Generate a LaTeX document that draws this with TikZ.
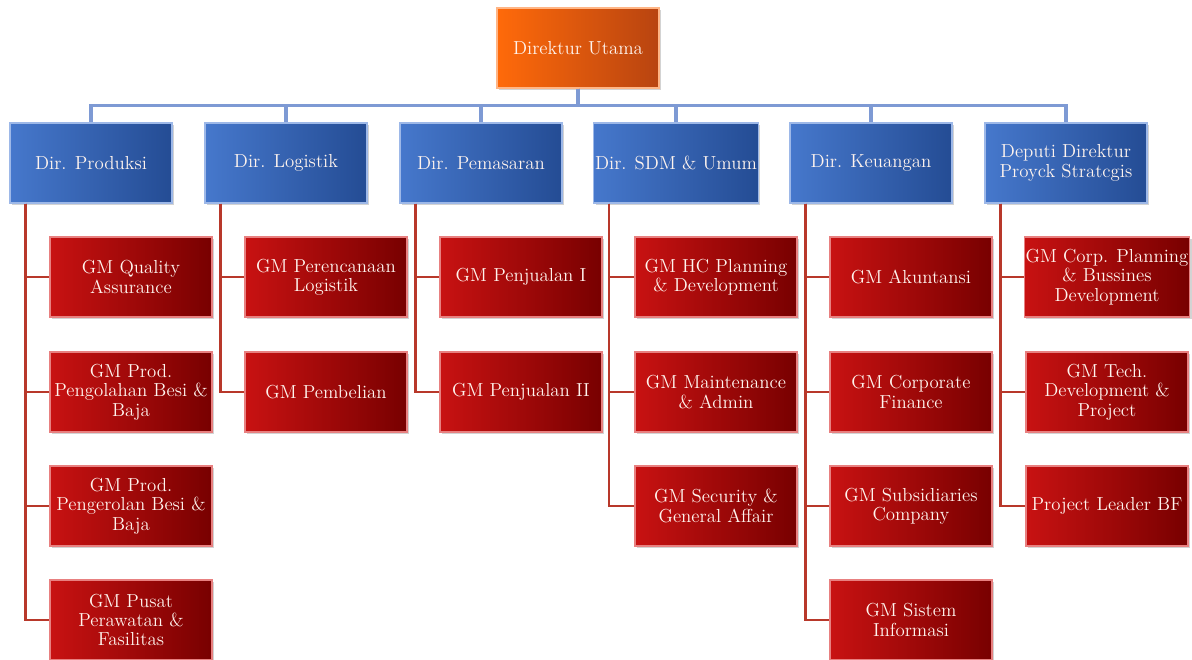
\documentclass[tikz,border=0pt]{standalone}
\usepackage{tikz}
\usetikzlibrary{calc,shadows}

\definecolor{topL}{HTML}{FF6A0A}
\definecolor{topR}{HTML}{B84410}
\definecolor{topE}{HTML}{FFB585}
\definecolor{dirL}{HTML}{4678CC}
\definecolor{dirR}{HTML}{244C94}
\definecolor{dirE}{HTML}{9DB8E8}
\definecolor{gmL}{HTML}{C81212}
\definecolor{gmR}{HTML}{780000}
\definecolor{gmE}{HTML}{E88080}
\definecolor{boxtext}{HTML}{FFF4EE}
\definecolor{busblue}{HTML}{7E9AD4}
\definecolor{linered}{HTML}{B8382A}

\begin{document}
\begin{tikzpicture}[x=0.025cm,y=-0.025cm,
    box/.style={minimum width=4.05cm,minimum height=2cm,inner sep=1pt,align=center,
      text=boxtext,font=\fontsize{13.4}{13.8}\selectfont,line width=0.8pt,
      drop shadow={opacity=0.35,shadow xshift=1.5pt,shadow yshift=-1.5pt}},
    topbox/.style={box,left color=topL,right color=topR,draw=topE},
    dirbox/.style={box,left color=dirL,right color=dirR,draw=dirE},
    gmbox/.style={box,left color=gmL,right color=gmR,draw=gmE},
    busline/.style={busblue,line width=2.6pt},
    redline/.style={linered,line width=2pt}]
    \useasboundingbox (0,0) rectangle (1192,659);
    \clip (0,0) rectangle (1192,659);

    % Top level
    \node[topbox] (utama) at (578,48) {Direktur Utama};

    % Directors
    \node[dirbox] (produksi) at (91,163) {Dir. Produksi};
    \node[dirbox] (logistik) at (286,163) {Dir. Logistik};
    \node[dirbox] (pemasaran) at (481,163) {Dir. Pemasaran};
    \node[dirbox] (sdm) at (676,163) {Dir. SDM \& Umum};
    \node[dirbox] (keuangan) at (871,163) {Dir. Keuangan};
    \node[dirbox] (deputi) at (1066,163) {Deputi Direktur\\Proyck Stratcgis};

    % Produksi
    \node[gmbox] (qa) at (131,277) {GM Quality\\Assurance};
    \node[gmbox] (olah) at (131,392) {GM Prod.\\Pengolahan Besi \&\\Baja};
    \node[gmbox] (rol) at (131,506) {GM Prod.\\Pengerolan Besi \&\\Baja};
    \node[gmbox] (pusat) at (131,620) {GM Pusat\\Perawatan \&\\Fasilitas};

    % Logistik
    \node[gmbox] (rencana) at (326,277) {GM Perencanaan\\Logistik};
    \node[gmbox] (beli) at (326,392) {GM Pembelian};

    % Pemasaran
    \node[gmbox] (jual1) at (521,277) {GM Penjualan I};
    \node[gmbox] (jual2) at (521,392) {GM Penjualan II};

    % SDM & Umum
    \node[gmbox] (hc) at (716,277) {GM HC Planning\\\& Development};
    \node[gmbox] (maint) at (716,392) {GM Maintenance\\\& Admin};
    \node[gmbox] (security) at (716,506) {GM Security \&\\General Affair};

    % Keuangan
    \node[gmbox] (akuntansi) at (911,277) {GM Akuntansi};
    \node[gmbox] (finance) at (911,392) {GM Corporate\\Finance};
    \node[gmbox] (subsid) at (911,506) {GM Subsidiaries\\Company};
    \node[gmbox] (sistem) at (911,620) {GM Sistem\\Informasi};

    % Deputi
    \node[gmbox] (corp) at (1107,277) {GM Corp. Planning\\\& Bussines\\Development};
    \node[gmbox] (tech) at (1107,392) {GM Tech.\\Development \&\\Project};
    \node[gmbox] (leader) at (1107,506) {Project Leader BF};

    % Blue bus to the directors
    \foreach \d in {produksi,logistik,pemasaran,sdm,keuangan,deputi}
      \draw[busline] (utama.south) -- ++(0,17) -| (\d.north);

    % Red ties to the GMs
    \foreach \d/\g in {produksi/qa,produksi/olah,produksi/rol,produksi/pusat,
        logistik/rencana,logistik/beli,pemasaran/jual1,pemasaran/jual2,
        sdm/hc,sdm/maint,sdm/security,
        keuangan/akuntansi,keuangan/finance,keuangan/subsid,keuangan/sistem,
        deputi/corp,deputi/tech,deputi/leader}
      \draw[redline] ($(\d.south west)+(16,0)$) |- (\g.west);
\end{tikzpicture}
\end{document}
